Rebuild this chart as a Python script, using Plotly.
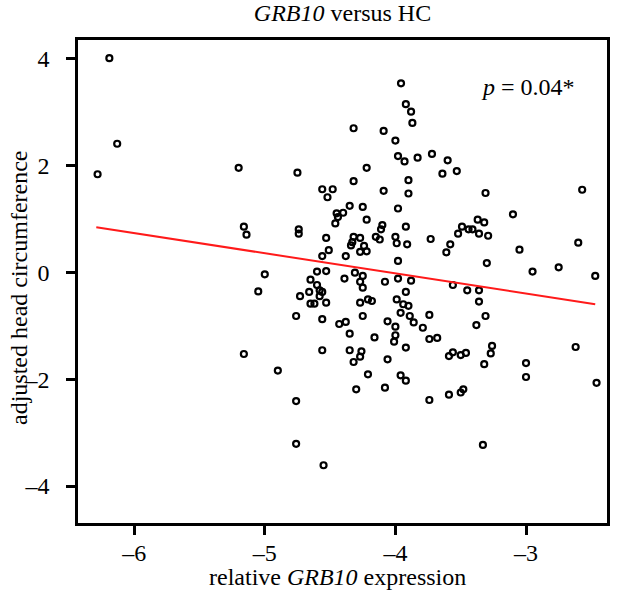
import plotly.graph_objects as go

# relative GRB10 expression (x) and adjusted head circumference (y)
expr = [
    -6.19, -6.13, -6.28, -5.20,
    -3.957, -3.92, -3.88, -3.87, -4.32, -4.09, -4.00, -3.98, -3.93, -3.83,
    -4.22, -4.75, -4.32, -3.90, -4.56, -4.48, -4.09, -3.90,
    -3.72, -3.60, -3.64, -3.53, -3.31, -2.57,
    -5.16, -5.14, -5.16,
    -4.52, -4.35, -4.25, -3.98, -4.45, -4.40, -4.44, -4.46, -4.22, -4.10,
    -4.11, -3.92, -4.74, -4.74, -4.53, -4.32, -4.27, -4.15, -4.12, -4.00,
    -4.33, -4.34, -4.24, -3.99, -3.91, -4.27, -4.22, -4.51, -4.56, -4.38,
    -3.98, -4.60, -4.53, -4.31, -5.00, -4.25, -4.65, -4.39, -4.27, -4.08,
    -3.98, -3.88, -4.60, -4.25, -4.58, -5.05, -4.66, -4.56, -3.92, -4.58,
    -4.73, -4.21, -4.18, -3.99, -4.65, -4.62, -4.53, -4.27, -3.94, -3.90,
    -3.96, -4.76, -4.25, -3.89, -4.56, -3.86, -4.06, -4.43, -4.38, -3.79,
    -4.00, -4.35, -4.00, -4.16, -4.01, -3.92, -4.56, -4.35, -4.26,
    -3.10, -3.37, -3.32, -3.49, -3.44, -3.41, -3.52, -3.36, -3.29, -3.73,
    -2.60, -3.58, -3.61, -3.05, -3.30, -2.75, -2.95, -2.47, -3.56, -3.45,
    -3.36, -3.36, -3.74, -3.31, -3.38, -3.74, -3.68, -2.62, -3.26, -3.27,
    -3.56, -3.59, -3.50, -3.46,
    -4.90, -4.76, -4.76, -4.55, -4.32, -4.27, -4.06, -4.21, -4.30, -4.08,
    -3.96, -3.92,
    -3.32, -3.00, -3.00, -2.46, -3.74, -3.59, -3.50, -3.48, -3.33,
]
headc = [
    4.00, 2.40, 1.83, 1.95,
    3.53, 3.14, 3.00, 2.79, 2.69, 2.64, 2.46, 2.17, 2.07, 2.14,
    1.95, 1.86, 1.70, 1.72, 1.55, 1.55, 1.52, 1.47,
    2.21, 2.09, 1.84, 1.89, 1.48, 1.54,
    0.85, 0.70, -1.53,
    1.40, 1.24, 1.22, 1.19, 1.10, 1.11, 1.03, 0.91, 0.98, 0.88,
    0.80, 0.85, 0.80, 0.72, 0.64, 0.66, 0.64, 0.66, 0.61, 0.66,
    0.56, 0.50, 0.49, 0.54, 0.52, 0.38, 0.39, 0.41, 0.30, 0.30,
    0.21, 0.01, 0.02, -0.01, -0.04, -0.07, -0.14, -0.12, -0.18, -0.18,
    -0.12, -0.16, -0.24, -0.29, -0.34, -0.36, -0.37, -0.37, -0.37, -0.45,
    -0.45, -0.51, -0.54, -0.51, -0.59, -0.59, -0.57, -0.57, -0.60, -0.63,
    -0.76, -0.82, -0.82, -0.82, -0.88, -0.94, -0.92, -0.97, -0.93, -1.04,
    -1.02, -1.15, -1.18, -1.22, -1.30, -1.41, -1.46, -1.46, -1.48,
    1.08, 0.98, 0.93, 0.85, 0.80, 0.80, 0.72, 0.72, 0.68, 0.62,
    0.55, 0.52, 0.37, 0.42, 0.17, 0.09, 0.01, -0.07, -0.24, -0.34,
    -0.34, -0.55, -0.80, -0.82, -0.99, -1.25, -1.23, -1.40, -1.38, -1.52,
    -1.50, -1.57, -1.55, -1.51,
    -1.84, -2.41, -3.21, -3.61, -1.68, -1.58, -1.63, -1.91, -2.19, -2.16,
    -1.93, -2.03,
    -1.72, -1.70, -1.96, -2.07, -2.39, -2.29, -2.25, -2.19, -3.23,
]

# fitted regression line endpoints
fit_x = [-6.29, -2.47]
fit_y = [0.84, -0.60]

x_ticks = [-6, -5, -4, -3]
x_ticklabels = ["–6", "–5", "–4", "–3"]
y_ticks = [-4, -2, 0, 2, 4]
y_ticklabels = ["–4", "–2", "0", "2", "4"]

FONT = "Liberation Serif, Times New Roman, serif"
FS = 24

L, R, T, B = 78, 607, 40, 523
W, H = 618, 594

fig = go.Figure()
fig.add_trace(go.Scatter(
    x=expr, y=headc, mode="markers",
    marker=dict(symbol="circle-open", size=6, color="black",
                line=dict(color="black", width=2.2)),
    showlegend=False, hoverinfo="x+y",
))
fig.add_trace(go.Scatter(
    x=fit_x, y=fit_y, mode="lines",
    line=dict(color="#ff1a1a", width=2),
    showlegend=False,
))

axis_common = dict(showgrid=False, zeroline=False, showline=True, mirror=True,
                   linecolor="black", linewidth=2.5, ticks="outside", ticklen=9,
                   tickwidth=2.5, tickcolor="black", automargin=False,
                   tickfont=dict(family=FONT, size=FS, color="black"))

fig.update_layout(
    width=W, height=H,
    margin=dict(l=L, r=W - R, t=T, b=H - B),
    paper_bgcolor="white", plot_bgcolor="white",
    font=dict(family=FONT, size=FS, color="black"),
    title=dict(text="<i>GRB10</i> versus HC", x=(L + R) / 2 / W, xanchor="center",
               y=1 - 13 / H, yanchor="middle", yref="container",
               font=dict(family=FONT, size=FS, color="black")),
    xaxis=dict(range=[-6.43, -2.38], tickvals=x_ticks, ticktext=x_ticklabels,
               ticklabelstandoff=-3, **axis_common),
    yaxis=dict(range=[-4.69, 4.34], tickvals=y_ticks, ticktext=y_ticklabels,
               ticklabelstandoff=12, **axis_common),
)

fig.add_annotation(text="relative <i>GRB10</i> expression", xref="paper", yref="paper",
                   x=(337 - L) / (R - L), y=(B - 577) / (B - T),
                   xanchor="center", yanchor="middle", showarrow=False,
                   font=dict(family=FONT, size=FS, color="black"))
fig.add_annotation(text="adjusted head circumference", xref="paper", yref="paper",
                   x=(19 - L) / (R - L), y=(B - 288) / (B - T), textangle=-90,
                   xanchor="center", yanchor="middle", showarrow=False,
                   font=dict(family=FONT, size=FS, color="black"))
fig.add_annotation(text="<i>p</i> = 0.04*", xref="paper", yref="paper",
                   x=(528 - L) / (R - L), y=(B - 87) / (B - T),
                   xanchor="center", yanchor="middle", showarrow=False,
                   font=dict(family=FONT, size=FS, color="black"))

fig.write_html("out.html", config={"displayModeBar": False},
               post_script="document.body.style.margin='0';document.body.style.padding='0';")
